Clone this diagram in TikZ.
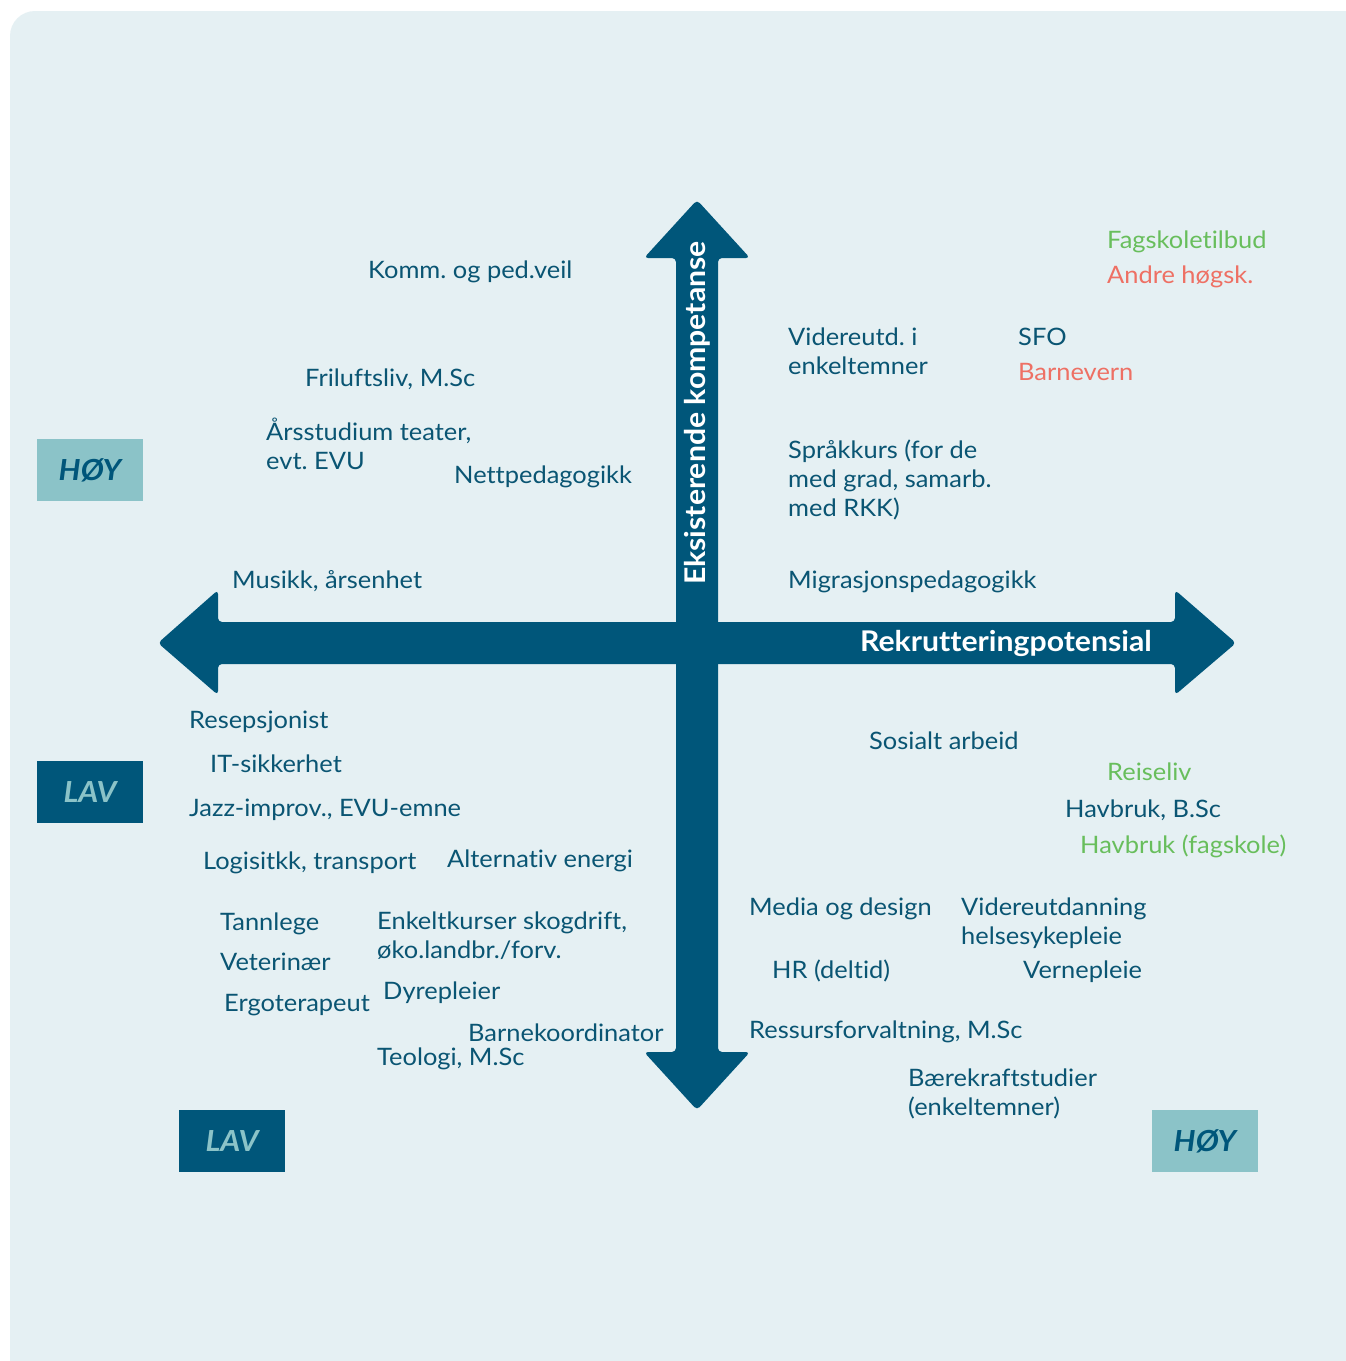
\documentclass[tikz,border=0pt]{standalone}
\usepackage{fontspec}
\setmainfont[Ligatures=NoCommon,FakeStretch=1.06]{Lato}
\frenchspacing
\definecolor{bgc}{RGB}{229,240,243}
\definecolor{navy}{RGB}{0,86,122}
\definecolor{txt}{RGB}{10,85,115}
\definecolor{lightb}{RGB}{139,195,200}
\definecolor{grn}{RGB}{104,190,92}
\definecolor{redc}{RGB}{238,112,100}
\begin{document}
\begin{tikzpicture}[x=1pt,y=-1pt,
  lbl/.style={anchor=base west,inner sep=0pt,text=txt,align=left,font=\fontsize{24}{29}\selectfont\frenchspacing},
  badge/.style={minimum width=106pt,minimum height=62pt,inner sep=0pt,font=\fontsize{29}{30}\selectfont\bfseries\itshape},
  hoy/.style={badge,fill=lightb,text=navy},
  lav/.style={badge,fill=navy,text=lightb},
  axlbl/.style={text=white,font=\fontsize{28.5}{30}\selectfont\bfseries,inner sep=0pt}]
\useasboundingbox (0,0) rectangle (1345,1361);
\fill[white] (0,0) rectangle (1345,1361);
\fill[bgc,rounded corners=25pt] (10,11) rectangle (1372,1388);
% arrows
\fill[navy,rounded corners=4pt] (697,200) -- (750,258) -- (718,258) -- (718,1052) -- (750,1052) -- (697,1110) -- (644,1052) -- (676,1052) -- (676,258) -- (644,258) -- cycle;
\fill[navy,rounded corners=4pt] (158,643) -- (218,590) -- (218,622) -- (1175,622) -- (1175,590) -- (1236,643) -- (1175,695) -- (1175,664) -- (218,664) -- (218,695) -- cycle;
\node[axlbl,rotate=90] (ylab) at (697,413) {Eksisterende kompetanse};
\node[axlbl] (xlab) at (1006,643) {Rekrutteringpotensial};
% badges
\node[hoy] (b1) at (90,470) {HØY};
\node[lav] (b2) at (90,792) {LAV};
\node[lav] (b3) at (232,1141) {LAV};
\node[hoy] (b4) at (1205,1141) {HØY};
% labels
\node[lbl] (t1) at (368,278) {Komm. og ped.veil};
\node[lbl] (t2) at (305,386) {Friluftsliv, M.Sc};
\node[lbl] (t3) at (266,469) {Årsstudium teater,\\evt. EVU};
\node[lbl] (t4) at (454,483) {Nettpedagogikk};
\node[lbl] (t5) at (232,588) {Musikk, årsenhet};
\node[lbl] (t6) at (788,374) {Videreutd. i\\enkeltemner};
\node[lbl] (t7) at (1018,345) {SFO};
\node[lbl,text=redc] (t8) at (1018,380) {Barnevern};
\node[lbl,text=grn] (t9) at (1107,248) {Fagskoletilbud};
\node[lbl,text=redc] (t10) at (1107,283) {Andre høgsk.};
\node[lbl] (t11) at (788,516) {Språkkurs (for de\\med grad, samarb.\\med RKK)};
\node[lbl] (t12) at (788,588) {Migrasjonspedagogikk};
\node[lbl] (t13) at (189,728) {Resepsjonist};
\node[lbl] (t14) at (210,772) {IT-sikkerhet};
\node[lbl] (t15) at (189,816) {Jazz-improv., EVU-emne};
\node[lbl] (t16) at (203,869) {Logisitkk, transport};
\node[lbl] (t17) at (447,867) {Alternativ energi};
\node[lbl] (t18) at (220,930) {Tannlege};
\node[lbl] (t19) at (377,958) {Enkeltkurser skogdrift,\\øko.landbr./forv.};
\node[lbl] (t20) at (220,970) {Veterinær};
\node[lbl] (t21) at (383,999) {Dyrepleier};
\node[lbl] (t22) at (224,1011) {Ergoterapeut};
\node[lbl] (t23) at (468,1041) {Barnekoordinator};
\node[lbl] (t24) at (377,1065) {Teologi, M.Sc};
\node[lbl] (t25) at (869,749) {Sosialt arbeid};
\node[lbl,text=grn] (t26) at (1107,780) {Reiseliv};
\node[lbl] (t27) at (1065,817) {Havbruk, B.Sc};
\node[lbl,text=grn] (t28) at (1080,853) {Havbruk (fagskole)};
\node[lbl] (t29) at (749,915) {Media og design};
\node[lbl] (t30) at (961,944) {Videreutdanning\\helsesykepleie};
\node[lbl] (t31) at (772,978) {HR (deltid)};
\node[lbl] (t32) at (1023,978) {Vernepleie};
\node[lbl] (t33) at (749,1038) {Ressursforvaltning, M.Sc};
\node[lbl] (t34) at (908,1115) {Bærekraftstudier\\(enkeltemner)};
\end{tikzpicture}
\end{document}
